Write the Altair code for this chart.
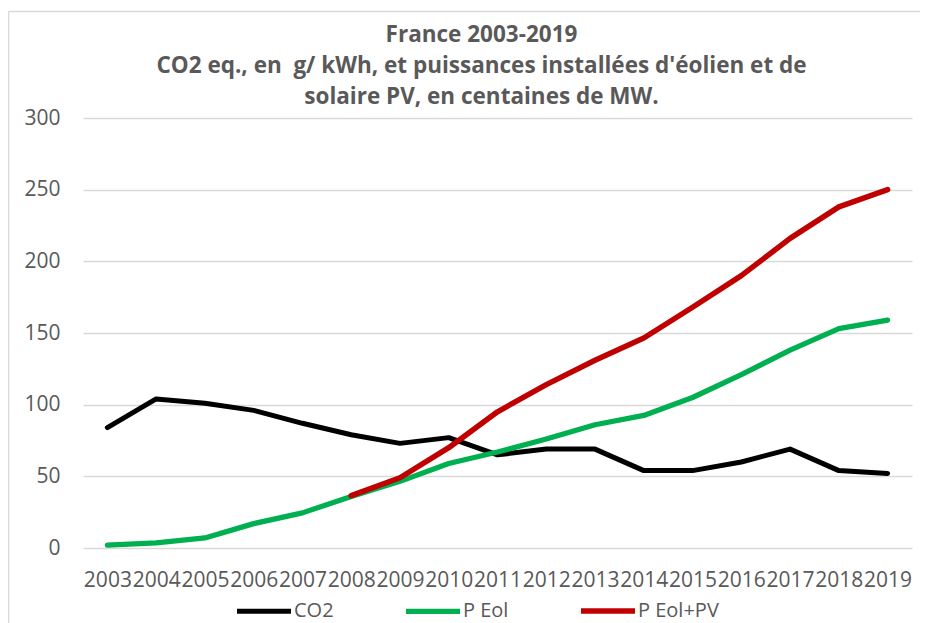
import altair as alt
import pandas as pd

years = [str(y) for y in range(2003, 2020)]
co2 = [84, 104, 101, 96, 87, 79, 73, 77, 65, 69, 69, 54, 54, 60, 69, 54, 52]
p_eol = [2, 3.5, 7, 17, 24.5, 36, 46.5, 59, 67, 76, 86, 92.5, 105, 121, 138, 153, 159]
p_eol_pv = [None, None, None, None, None, 36.5, 49, 70, 95, 114, 131, 146.5, 168, 190, 216, 238, 250]

series_names = ["CO2", "P Eol", "P Eol+PV"]
series_colors = ["#000000", "#00B050", "#C00000"]
series_widths = [5, 5.5, 7]

title_lines = ["France 2003-2019",
               "CO2 eq., en\u00a0 g/ kWh, et puissances installées d'éolien et de",
               "solaire PV, en centaines de MW."]

rows = []
for name, vals in zip(series_names, [co2, p_eol, p_eol_pv]):
    for y, v in zip(years, vals):
        if v is not None:
            rows.append({"year": y, "serie": name, "value": v})
df = pd.DataFrame(rows)

FONT = "Open Sans"
GREY = "#595959"
GRID = "#D9D9D9"

W, H = 829, 430

one = pd.DataFrame({"k": [0]})

border_left = alt.Chart(one).mark_rule(color=GRID, strokeWidth=1.5).encode(
    x=alt.value(-74.5), y=alt.value(-106.5), y2=alt.value(H + 120))
border_top = alt.Chart(one).mark_rule(color=GRID, strokeWidth=1.5).encode(
    x=alt.value(-74.5), x2=alt.value(W + 30), y=alt.value(-106.5))

title = alt.Chart(pd.DataFrame({"t": ["\n".join(title_lines)]})).mark_text(
    font=FONT, fontSize=22.5, fontWeight="bold", color=GREY, lineBreak="\n",
    lineHeight=31, align="center", baseline="alphabetic"
).encode(text="t:N", x=alt.value(W / 2 - 16), y=alt.value(-76))

lines = alt.Chart(df).mark_line(strokeCap="round", strokeJoin="round").encode(
    x=alt.X("year:O", sort=years, title=None,
            axis=alt.Axis(labelAngle=0, labelFontSize=21, labelColor=GREY, labelFont=FONT,
                          labelPadding=21, ticks=False, domain=False, grid=False,
                          labelOverlap=False, labelBound=False, labelFlush=False)),
    y=alt.Y("value:Q", title=None,
            scale=alt.Scale(domain=[0, 300], nice=False, zero=True),
            axis=alt.Axis(values=[0, 50, 100, 150, 200, 250, 300], labelFontSize=21,
                          labelColor=GREY, labelFont=FONT, labelPadding=23, ticks=False,
                          domain=False, gridColor=GRID, gridWidth=1.3)),
    color=alt.Color("serie:N", title=None,
                    scale=alt.Scale(domain=series_names, range=series_colors),
                    legend=alt.Legend(orient="none", legendX=151, legendY=463,
                                      direction="horizontal", columns=3,
                                      symbolType="stroke", symbolSize=2916,
                                      symbolStrokeWidth=5.5,
                                      labelFontSize=20, labelColor=GREY, labelFont=FONT,
                                      labelOffset=0, columnPadding=61, padding=0)),
    strokeWidth=alt.StrokeWidth("serie:N",
                                scale=alt.Scale(domain=series_names, range=series_widths),
                                legend=None),
    order=alt.Order("serie:N"),
)

chart = alt.layer(border_left, border_top, title, lines).properties(
    width=W, height=H,
    padding={"left": 75, "top": 110, "right": 8, "bottom": 75},
    autosize=alt.AutoSizeParams(type="none"),
).configure_view(stroke=None)

chart.save("out.html", embed_options={"renderer": "svg", "actions": False})
